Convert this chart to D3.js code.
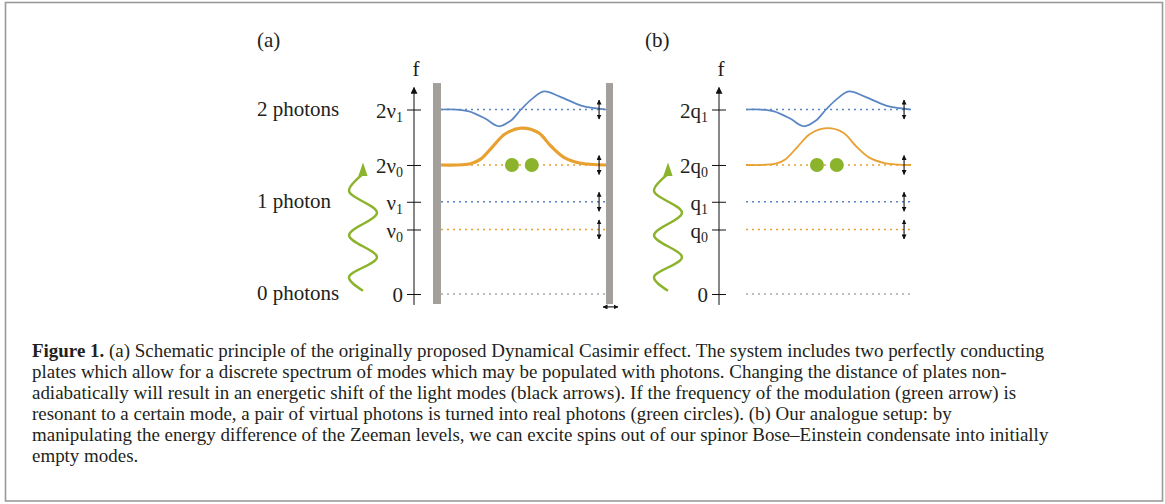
<!DOCTYPE html>
<html>
<head>
<meta charset="utf-8">
<script src="https://cdn.jsdelivr.net/npm/d3@7"></script>
<style>
  body { margin: 0; background: #fff; }
  svg { display: block; }
  text { font-family: "Liberation Serif", "Times New Roman", serif; fill: #231f20; }
</style>
</head>
<body>
<div class="fig"></div>
<script>
const width = 1165
const height = 504

// frequency levels (in units of v0)
const levelValues = [0, 1, 1.43, 2, 2.86]
const levelLabelsA = [["0", ""], ["ν", "0"], ["ν", "1"], ["2ν", "0"], ["2ν", "1"]]
const levelLabelsB = [["0", ""], ["q", "0"], ["q", "1"], ["2q", "0"], ["2q", "1"]]
const levelColors = ["#a9a9a9", "#e8a030", "#5b86c4", "#e8a030", "#5b86c4"]
const levelShift = [false, true, true, true, true]

const photonLabels = ["0 photons", "1 photon", "2 photons"]
const photonLevels = [0, 1.43, 2.86]

// mode shapes across the cavity (x: 0..1 between plates, f: frequency)
const mode1X = [0, 0.085, 0.17, 0.267, 0.35, 0.424, 0.485, 0.55, 0.624, 0.72, 0.85, 0.93, 1]
const mode1F = [2.86, 2.86, 2.83, 2.72, 2.60, 2.69, 2.86, 3.02, 3.14, 3.06, 2.92, 2.88, 2.86]
const mode0X = [0, 0.18, 0.24, 0.315, 0.388, 0.49, 0.59, 0.667, 0.75, 0.84, 1]
const mode0F = [2, 2.02, 2.09, 2.29, 2.48, 2.57, 2.5, 2.29, 2.11, 2.03, 2]

// real photons (green circles)
const photonX = [0.43, 0.55]
const photonF = [2, 2]

// modulation (green wavy arrow), x in amplitude units
const waveA = [0, -1, 1, -1, 1, -1, 0]
const waveF = [0.05, 0.26, 0.57, 0.91, 1.26, 1.6, 1.86]
const waveTip = 2.04

const captionLines = [
  ["Figure 1.", " (a) Schematic principle of the originally proposed Dynamical Casimir effect. The system includes two perfectly conducting"],
  ["", "plates which allow for a discrete spectrum of modes which may be populated with photons. Changing the distance of plates non-"],
  ["", "adiabatically will result in an energetic shift of the light modes (black arrows). If the frequency of the modulation (green arrow) is"],
  ["", "resonant to a certain mode, a pair of virtual photons is turned into real photons (green circles). (b) Our analogue setup: by"],
  ["", "manipulating the energy difference of the Zeeman levels, we can excite spins out of our spinor Bose\u2013Einstein condensate into initially"],
  ["", "empty modes."]
]

const svg = d3.create("svg")
  .attr("width", width)
  .attr("height", height)
  .attr("viewBox", [0, 0, width, height])
document.querySelector(".fig").append(svg.node())

const defs = svg.append("defs")
defs.append("marker")
  .attr("id", "small-head")
  .attr("viewBox", "0 0 10 10")
  .attr("refX", 9).attr("refY", 5)
  .attr("markerUnits", "userSpaceOnUse")
  .attr("markerWidth", 5).attr("markerHeight", 5)
  .attr("orient", "auto-start-reverse")
  .append("path").attr("d", "M0,0 L10,5 L0,10 z").attr("fill", "#111")
defs.append("marker")
  .attr("id", "axis-head")
  .attr("viewBox", "0 0 10 10")
  .attr("refX", 9).attr("refY", 5)
  .attr("markerUnits", "userSpaceOnUse")
  .attr("markerWidth", 10).attr("markerHeight", 7)
  .attr("orient", "auto")
  .append("path").attr("d", "M0,0 L10,5 L0,10 z").attr("fill", "#111")

// frame
svg.append("rect")
  .attr("x", 5.5).attr("y", 2.5)
  .attr("width", 1157).attr("height", 498.5)
  .attr("fill", "none")
  .attr("stroke", "#9a9a9a")
  .attr("stroke-width", 1.6)

const y = d3.scaleLinear().domain([0, 2.86]).range([294, 109.5])

function drawPanel(g, opts) {
  const x = d3.scaleLinear().domain([0, 1]).range([441, 606])
  const axisX = 414
  const ax = d3.scaleLinear().domain([-1, 1]).range([349, 377])

  // axis line with arrow
  g.append("line")
    .attr("x1", axisX).attr("x2", axisX)
    .attr("y1", y(-0.17)).attr("y2", y(3.2))
    .attr("stroke", "#111").attr("stroke-width", 1)
    .attr("marker-end", "url(#axis-head)")
  g.append("text")
    .attr("x", axisX + 2).attr("y", y(3.38))
    .attr("text-anchor", "middle")
    .style("font-size", "21px")
    .text("f")

  const axis = d3.axisLeft(y).tickValues(levelValues).tickSize(7).tickFormat("")
  const ag = g.append("g").attr("transform", `translate(${axisX},0)`).call(axis)
  ag.select(".domain").remove()
  ag.selectAll(".tick line").attr("x1", -7).attr("x2", 7).attr("stroke", "#111")
  ag.selectAll(".tick").each(function(d, i) {
    const t = d3.select(this).append("text")
      .attr("x", -11).attr("dy", "0.36em")
      .attr("text-anchor", "end")
      .attr("fill", "#231f20")
      .style("font-size", "21px")
      .style("font-family", '"Liberation Serif", serif')
    const lab = opts.labels[i]
    t.append("tspan").text(lab[0])
    if (lab[1]) t.append("tspan").attr("dy", "0.3em").style("font-size", "14px").text(lab[1])
  })

  // dotted levels
  g.selectAll(".level")
    .data(levelValues)
    .join("line")
    .attr("x1", x(0)).attr("x2", x(1))
    .attr("y1", d => y(d)).attr("y2", d => y(d))
    .attr("stroke", (d, i) => levelColors[i])
    .attr("stroke-width", 1.3)
    .attr("stroke-dasharray", "2,4")

  // plates
  if (opts.plates) {
    g.append("rect")
      .attr("x", x(0) - 8).attr("width", 8)
      .attr("y", y(3.27)).attr("height", y(-0.155) - y(3.27))
      .attr("fill", "#a39f9b")
    g.append("rect")
      .attr("x", x(1)).attr("width", 7)
      .attr("y", y(3.27)).attr("height", y(-0.155) - y(3.27))
      .attr("fill", "#a39f9b")
    g.append("line")
      .attr("x1", x(1) - 3).attr("x2", x(1) + 12)
      .attr("y1", y(-0.2)).attr("y2", y(-0.2))
      .attr("stroke", "#111").attr("stroke-width", 1.1)
      .attr("marker-start", "url(#small-head)")
      .attr("marker-end", "url(#small-head)")
  }

  // mode shapes
  const line = d3.line().curve(d3.curveCatmullRom.alpha(0.5))
  g.append("path")
    .attr("d", line(mode1X.map((v, i) => [x(v), y(mode1F[i])])))
    .attr("fill", "none").attr("stroke", "#5b86c4").attr("stroke-width", 1.7)
  g.append("path")
    .attr("d", line(mode0X.map((v, i) => [x(v), y(mode0F[i])])))
    .attr("fill", "none").attr("stroke", "#e8a030").attr("stroke-width", opts.thick ? 3.2 : 1.8)

  // energy shifts
  g.selectAll(".shift")
    .data(levelValues.filter((d, i) => levelShift[i]))
    .join("line")
    .attr("x1", x(0.958)).attr("x2", x(0.958))
    .attr("y1", d => y(d) - 9.5).attr("y2", d => y(d) + 9.5)
    .attr("stroke", "#111").attr("stroke-width", 1.1)
    .attr("marker-start", "url(#small-head)")
    .attr("marker-end", "url(#small-head)")

  // real photons
  g.selectAll(".photon")
    .data(photonX)
    .join("circle")
    .attr("cx", d => x(d)).attr("cy", (d, i) => y(photonF[i]))
    .attr("r", 7)
    .attr("fill", "#8cb32c")

  // modulation
  g.append("path")
    .attr("d", line(waveA.map((v, i) => [ax(v), y(waveF[i])])))
    .attr("fill", "none").attr("stroke", "#8cb32c").attr("stroke-width", 2.4)
  g.append("path")
    .attr("d", `M${ax(0)},${y(waveTip)} L${ax(0.33)},${y(1.83)} L${ax(-0.33)},${y(1.83)} Z`)
    .attr("fill", "#8cb32c")
}

const ga = svg.append("g")
drawPanel(ga, {labels: levelLabelsA, plates: true, thick: true})
const gb = svg.append("g").attr("transform", "translate(305,0)")
drawPanel(gb, {labels: levelLabelsB, plates: false, thick: false})

svg.append("text").attr("x", 257).attr("y", 47).style("font-size", "21px").text("(a)")
svg.append("text").attr("x", 645).attr("y", 47).style("font-size", "21px").text("(b)")

svg.selectAll(".photons")
  .data(photonLabels)
  .join("text")
  .attr("x", 257)
  .attr("y", (d, i) => y(photonLevels[i]))
  .attr("dy", "0.3em")
  .style("font-size", "21px")
  .text(d => d)

// caption
const cap = svg.append("g")
const capLines = cap.selectAll("text")
  .data(captionLines)
  .join("text")
  .attr("x", 0)
  .attr("y", (d, i) => i * 21)
  .style("font-size", "18px")
capLines.append("tspan").style("font-weight", "bold").text(d => d[0])
capLines.append("tspan").text(d => d[1])
const natural = capLines.nodes()[0].getComputedTextLength()
const sx = natural > 0 ? 1013 / natural : 1
cap.attr("transform", `translate(32,357) scale(${sx},1)`)
</script>
</body>
</html>
